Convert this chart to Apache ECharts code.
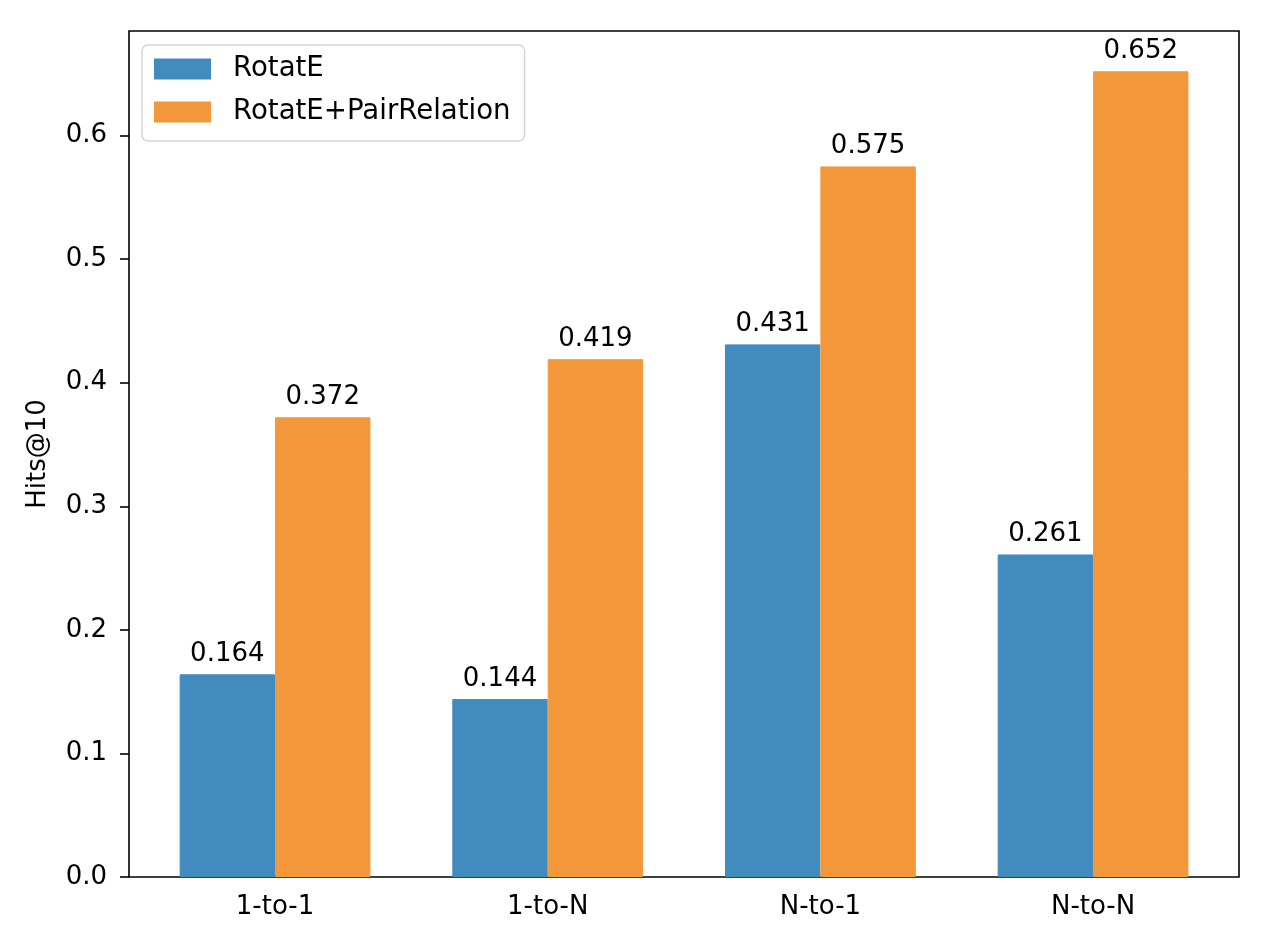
<!DOCTYPE html>
<html>
<head>
<meta charset="utf-8">
<script src="https://cdn.jsdelivr.net/npm/echarts@6/dist/echarts.min.js"></script>
<style>
  html, body { margin: 0; padding: 0; background: #fff; }
  #chart { width: 1270px; height: 948px; }
</style>
</head>
<body>
<div id="chart"></div>
<script>
// data
var categories = ['1-to-1', '1-to-N', 'N-to-1', 'N-to-N'];
var rotatE = [0.164, 0.144, 0.431, 0.261];
var pairRelation = [0.372, 0.419, 0.575, 0.652];
var yTicks = [0, 0.1, 0.2, 0.3, 0.4, 0.5, 0.6];
var yMax = 0.6846;

var FONT = 'DejaVu Sans';
var BLUE = '#418bbf';
var ORANGE = '#f2983b';
var chart = echarts.init(document.getElementById('chart'));

var barLabel = {
  show: true,
  position: 'top',
  distance: 7,
  color: '#000',
  fontFamily: FONT,
  fontSize: 26,
  formatter: function (p) { return p.value.toFixed(3); }
};

chart.setOption({
  animation: false,
  textStyle: { fontFamily: FONT },
  grid: [
    // outer frame + y axis
    { left: 129, right: 31, top: 31, bottom: 71, show: true, borderColor: '#000', borderWidth: 1.6, backgroundColor: 'transparent' },
    // inner band for the categories (matplotlib margins)
    { left: 138.7, right: 40.6, top: 31, bottom: 71 }
  ],
  legend: {
    orient: 'vertical',
    left: 142,
    top: 45,
    padding: [10, 14, 15, 12],
    itemWidth: 55,
    itemHeight: 19,
    itemGap: 15,
    icon: 'rect',
    backgroundColor: '#fff',
    borderColor: '#d6d6d6',
    borderWidth: 1.5,
    borderRadius: 6,
    textStyle: { fontFamily: FONT, fontSize: 27.6, color: '#000', padding: [0, 0, 0, 18] },
    data: ['RotatE', 'RotatE+PairRelation']
  },
  xAxis: [
    { type: 'value', gridIndex: 0, min: 0, max: 1, show: false },
    {
      type: 'category', gridIndex: 1, data: categories,
      axisLine: { show: false },
      axisTick: { alignWithLabel: true, length: 9, lineStyle: { color: '#000', width: 1.6 } },
      axisLabel: { color: '#000', fontFamily: FONT, fontSize: 26, margin: 17 }
    }
  ],
  yAxis: [
    {
      type: 'value', gridIndex: 0, min: 0, max: yMax,
      name: 'Hits@10', nameLocation: 'middle', nameGap: 78,
      nameTextStyle: { color: '#000', fontFamily: FONT, fontSize: 26 },
      splitLine: { show: false },
      axisLine: { show: false },
      axisTick: { show: true, length: 9, customValues: yTicks, lineStyle: { color: '#000', width: 1.6 } },
      axisLabel: {
        color: '#000', fontFamily: FONT, fontSize: 26, margin: 22,
        customValues: yTicks,
        formatter: function (v) { return v.toFixed(1); }
      }
    },
    { type: 'value', gridIndex: 1, min: 0, max: yMax, show: false }
  ],
  series: [
    {
      name: 'RotatE', type: 'bar', xAxisIndex: 1, yAxisIndex: 1,
      data: rotatE, barWidth: 95.4, barGap: '0%',
      itemStyle: { color: BLUE, borderColor: BLUE, borderWidth: 1 },
      label: barLabel
    },
    {
      name: 'RotatE+PairRelation', type: 'bar', xAxisIndex: 1, yAxisIndex: 1,
      data: pairRelation, barWidth: 95.4, barGap: '0%',
      itemStyle: { color: ORANGE, borderColor: ORANGE, borderWidth: 1 },
      label: barLabel
    }
  ]
});
</script>
</body>
</html>
